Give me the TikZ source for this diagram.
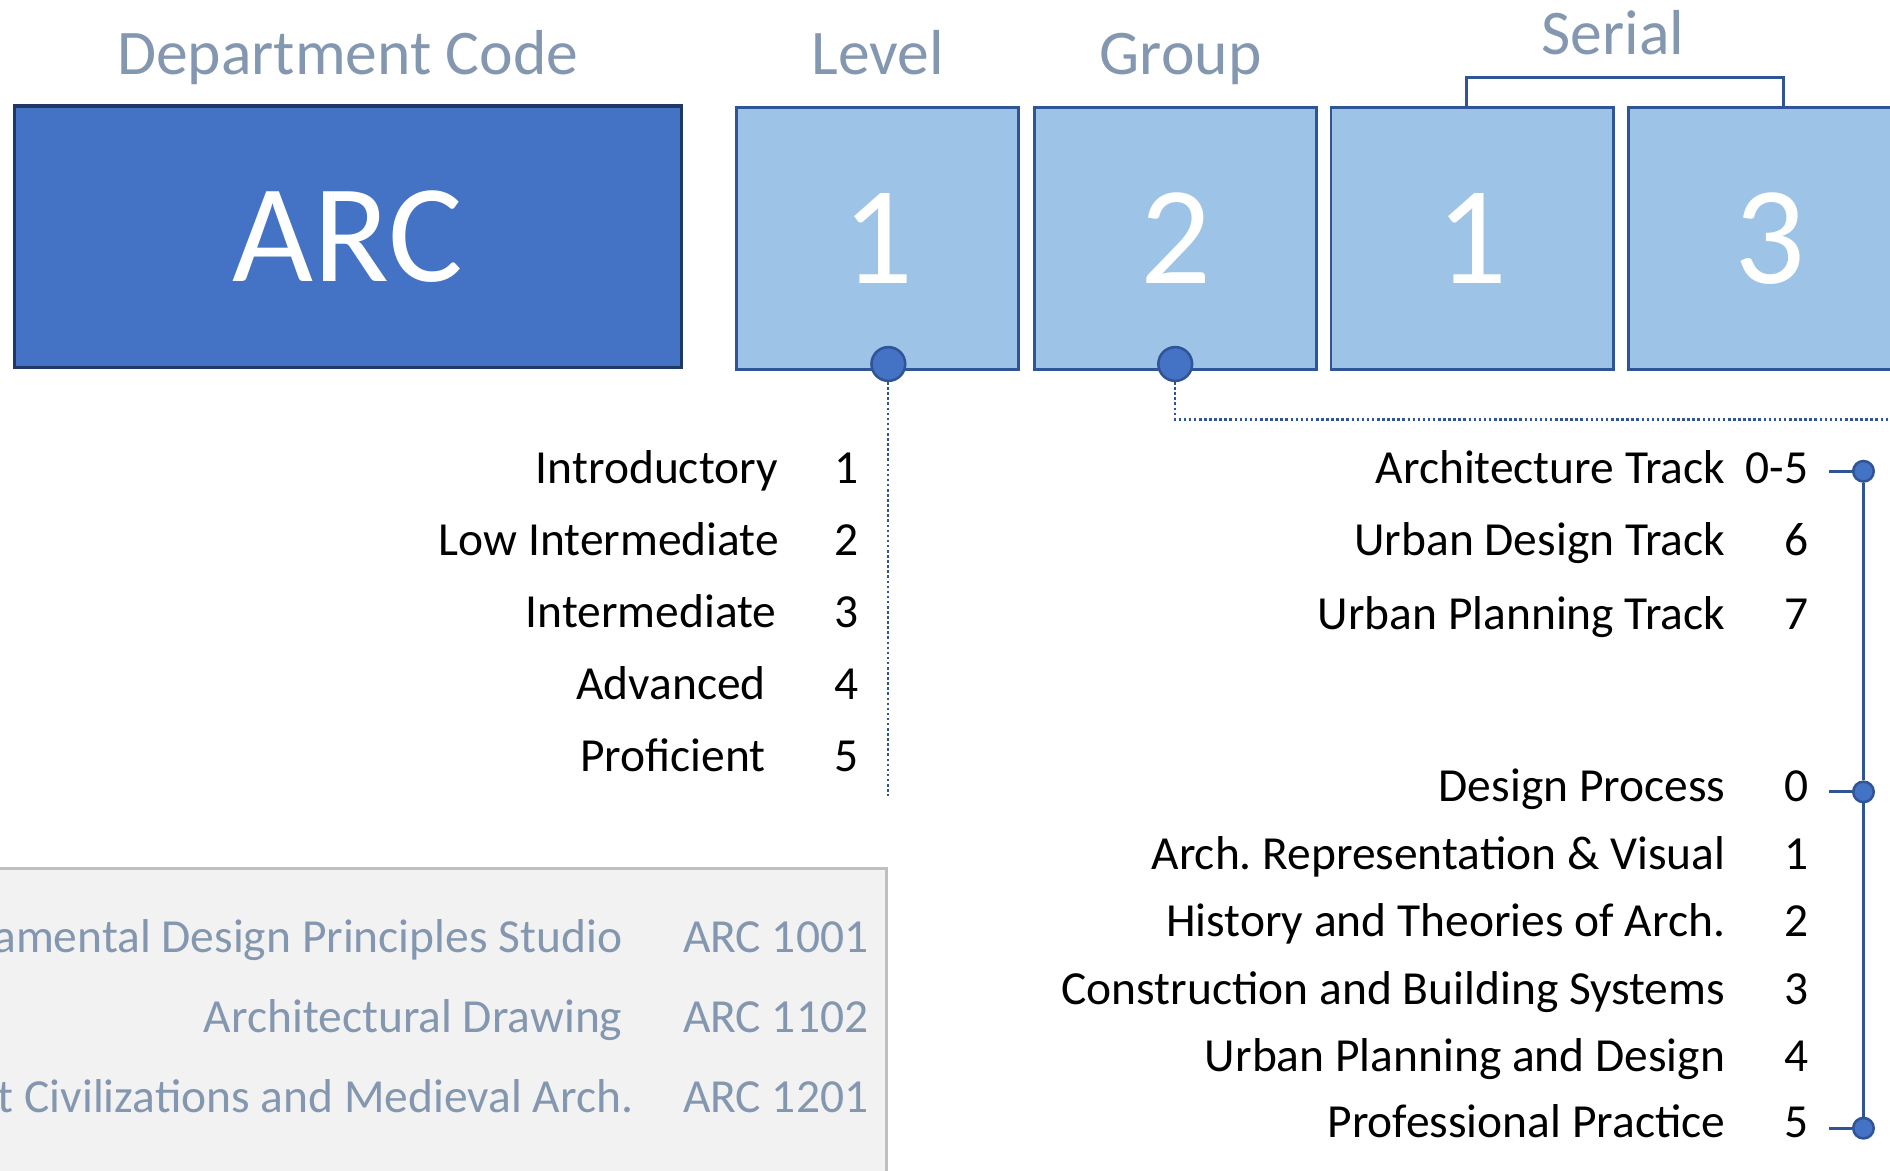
\documentclass[tikz,border=0pt]{standalone}
\usepackage{fontspec}
\setmainfont{Carlito}
\frenchspacing
\definecolor{arcblue}{HTML}{4472C4}
\definecolor{arcline}{HTML}{1F3864}
\definecolor{cellblue}{HTML}{9DC3E6}
\definecolor{cellline}{HTML}{2F5597}
\definecolor{headgray}{HTML}{8497B0}
\definecolor{shelfgray}{HTML}{F2F2F2}
\definecolor{shelfline}{HTML}{BFBFBF}
\tikzset{
  deptbox/.style={draw=arcline,fill=arcblue,line width=0.8pt,minimum width=5.53cm,minimum height=2.17cm,
    inner sep=0pt,text=white,font=\fontsize{33}{36}\selectfont},
  digitbox/.style={draw=cellline,fill=cellblue,line width=0.7pt,minimum width=2.34cm,minimum height=2.17cm,
    inner sep=0pt,anchor=north west,text=white,font=\fontsize{33}{36}\selectfont},
  head/.style={text=headgray,inner sep=0pt,anchor=base,font=\fontsize{15}{18}\selectfont},
  item/.style={inner sep=0pt,font=\fontsize{11.2}{13}\selectfont},
  course/.style={item,text=headgray},
  pin/.style={circle,draw=cellline,fill=arcblue,line width=0.6pt,minimum size=0.28cm,inner sep=0pt},
  tip/.style={circle,draw=cellline,fill=arcblue,line width=0.6pt,minimum size=0.17cm,inner sep=0pt},
  leader/.style={draw=cellline,line width=0.5pt,dash pattern=on 0.6pt off 0.6pt},
  bracket/.style={draw=cellline,line width=0.7pt},
  shelfbox/.style={draw=shelfline,fill=shelfgray,line width=0.7pt,minimum width=7.6cm,minimum height=2.8cm,
    inner sep=0pt,anchor=north east}
}
\begin{document}
\begin{tikzpicture}[x=0.01cm,y=-0.01cm]
\useasboundingbox (0,0) rectangle (1568,971);
\clip (0,0) rectangle (1568,971);
% headings
\node[head] (depthead) at (288.5,62) {Department Code};
\node[head] (lvlhead) at (728,62) {Level};
\node[head] (grphead) at (979.5,62) {Group};
\node[head] (serhead) at (1338,45) {Serial};
% code boxes
\node[deptbox] (dept) at (288.5,196.5) {ARC};
\node[digitbox] (lvl) at (610,88) {1};
\node[digitbox] (grp) at (857,88) {2};
\node[digitbox] (ser1) at (1103,88) {1};
\node[digitbox] (ser2) at (1350,88) {3};
\draw[bracket] (1217,88) |- (1480,64) -- (1480,88);
% pins and leaders
\node[pin] (lvlpin) at (737,302) {};
\node[pin] (grppin) at (975,302) {};
\coordinate (lvlend) at (737,660);
\coordinate (grpend) at (1580,348);
\draw[leader] (lvlpin) -- (lvlend);
\draw[leader] (grppin) |- (grpend);
% level list
\foreach \txt/\x/\y [count=\i] in {Introductory/646/401,Low Intermediate/647/461,Intermediate/645/521,Advanced/636/580,Proficient/636/640}{
  \node[item,anchor=base east] (lv\i) at (\x,\y) {\txt};
  \node[item,anchor=base east] (lvn\i) at (713,\y) {\i};
}
% group list
\foreach \txt/\n/\y [count=\i] in {Architecture Track/0-5/401,Urban Design Track/6/461,Urban Planning Track/7/522,
  Design Process/0/665,Arch. Representation \& Visual/1/721,History and Theories of Arch./2/777,
  Construction and Building Systems/3/833,Urban Planning and Design/4/889,Professional Practice/5/944}{
  \node[item,anchor=base east] (gr\i) at (1432,\y) {\txt};
  \node[item,anchor=base east] (grn\i) at (1501,\y) {\n};
}
% right bracket
\node[tip] (trackdot) at (1546,391) {};
\node[tip] (firstdot) at (1546,657) {};
\node[tip] (lastdot) at (1546,936) {};
\coordinate (tracktick) at (1517,391);
\coordinate (firsttick) at (1517,657);
\coordinate (lasttick) at (1517,936);
\draw[bracket] (tracktick) -- (trackdot);
\draw[bracket] (firsttick) -- (firstdot);
\draw[bracket] (lasttick) -- (lastdot);
\draw[bracket] (trackdot) -- (firstdot) -- (lastdot);
% sample courses
\node[shelfbox] (shelf) at (737,719) {};
\foreach \txt/\code/\x/\y [count=\i] in {Fundamental Design Principles Studio/ARC 1001/517/790,
  Architectural Drawing/ARC 1102/517/857,Ancient Civilizations and Medieval Arch./ARC 1201/526/923}{
  \node[course,anchor=base east] (cs\i) at (\x,\y) {\txt};
  \node[course,anchor=base west] (cc\i) at (566,\y) {\code};
}
\end{tikzpicture}
\end{document}
